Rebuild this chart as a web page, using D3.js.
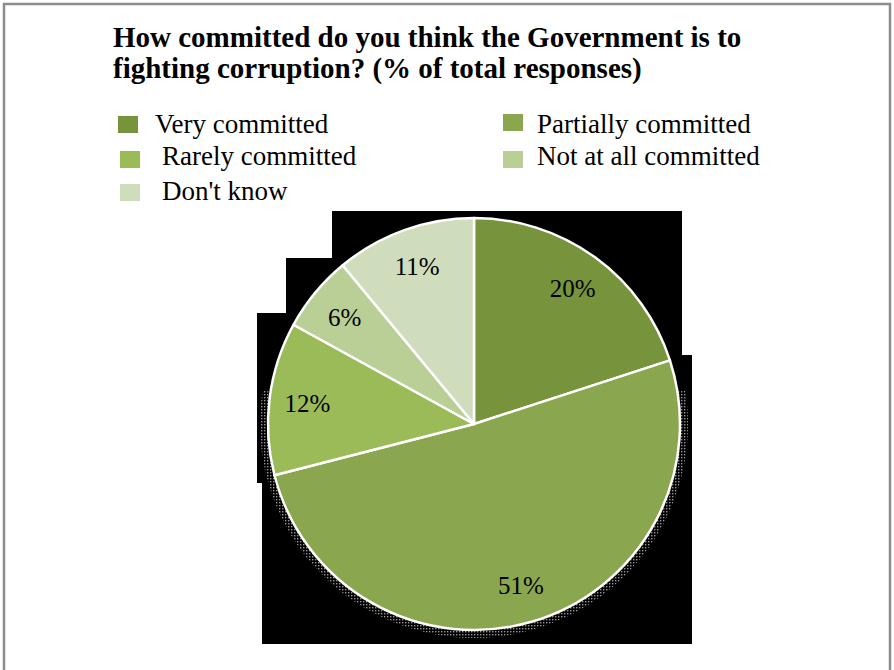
<!DOCTYPE html>
<html>
<head>
<meta charset="utf-8">
<script src="https://cdn.jsdelivr.net/npm/d3@7/dist/d3.min.js"></script>
<style>
  html, body { margin: 0; padding: 0; background: #fff; }
  svg { display: block; }
</style>
</head>
<body>
<svg id="chart" width="894" height="670"></svg>
<script>
// Survey responses, % of total
const categories = ["Very committed", "Partially committed", "Rarely committed", "Not at all committed", "Don't know"];
const values = [20, 51, 12, 6, 11];
const colors = ["#77933C", "#8AA64F", "#9BBB59", "#BACF95", "#D0DDBD"];
const titleLines = ["How committed do you think the Government is to", "fighting corruption? (% of total responses)"];

const svg = d3.select("#chart");
const font = "'Liberation Serif', 'Times New Roman', serif";

// outer frame
svg.append("rect")
  .attr("x", 4).attr("y", 4).attr("width", 886).attr("height", 680)
  .attr("fill", "#fff").attr("stroke", "#8c8c8c").attr("stroke-width", 2.5);

// title
svg.append("text")
  .attr("font-family", font).attr("font-weight", "bold").attr("font-size", 29)
  .attr("fill", "#000")
  .selectAll("tspan").data(titleLines).join("tspan")
  .attr("x", 113).attr("y", (d, i) => 47 + i * 31)
  .text(d => d);

// legend: two columns, three rows
const legendPos = [
  { sx: 118, sy: 116, tx: 155, ty: 133 },
  { sx: 503, sy: 114, tx: 537, ty: 133 },
  { sx: 120, sy: 151, tx: 162, ty: 165 },
  { sx: 503, sy: 151, tx: 537, ty: 165 },
  { sx: 120, sy: 184, tx: 162, ty: 200 }
];
const legend = svg.append("g").attr("class", "legend");
const items = legend.selectAll("g").data(categories).join("g");
items.append("rect")
  .attr("x", (d, i) => legendPos[i].sx).attr("y", (d, i) => legendPos[i].sy)
  .attr("width", 20).attr("height", 17)
  .attr("fill", (d, i) => colors[i]);
items.append("text")
  .attr("x", (d, i) => legendPos[i].tx).attr("y", (d, i) => legendPos[i].ty)
  .attr("font-family", font).attr("font-size", 27).attr("fill", "#000")
  .text(d => d);

// dark backdrop behind the pie
const backdrop = [[332,211],[682,211],[682,355],[692,355],[692,644],[262,644],[262,483],[257,483],[257,313],[286,313],[286,258],[332,258]];
svg.append("path")
  .attr("d", d3.line()(backdrop) + "Z")
  .attr("fill", "#000");

const cx = 474, cy = 424, R = 206;

// dotted halo around the lower rim
const defs = svg.append("defs");
const pat = defs.append("pattern").attr("id", "dots")
  .attr("width", 3).attr("height", 3).attr("patternUnits", "userSpaceOnUse");
pat.append("rect").attr("width", 1.4).attr("height", 1.4).attr("fill", "#bbb");

const g = svg.append("g").attr("transform", `translate(${cx},${cy})`);

g.append("path")
  .attr("d", d3.arc().innerRadius(R).outerRadius(R + 8)
    .startAngle(Math.PI * 0.45).endAngle(Math.PI * 1.55)())
  .attr("fill", "url(#dots)").attr("opacity", 0.8);

const pie = d3.pie().sort(null).value(d => d);
const arcs = pie(values);
const arc = d3.arc().innerRadius(0).outerRadius(R);
const labelArc = d3.arc().innerRadius(168).outerRadius(168);

g.selectAll("path.slice").data(arcs).join("path")
  .attr("class", "slice")
  .attr("d", arc)
  .attr("fill", (d, i) => colors[i])
  .attr("stroke", "#fff").attr("stroke-width", 2.5)
  .attr("stroke-linejoin", "round");

g.selectAll("text.pct").data(arcs).join("text")
  .attr("class", "pct")
  .attr("transform", d => `translate(${labelArc.centroid(d)})`)
  .attr("text-anchor", "middle").attr("dy", "0.35em")
  .attr("font-family", font).attr("font-size", 25).attr("fill", "#000")
  .text(d => d.data + "%");
</script>
</body>
</html>
